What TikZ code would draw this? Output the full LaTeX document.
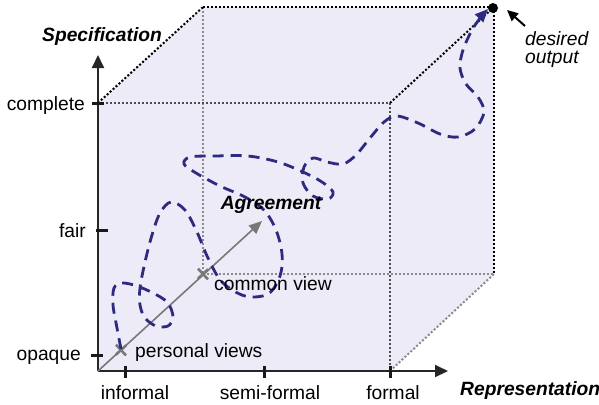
\documentclass[tikz,border=0pt]{standalone}
\usepackage{fontspec}
\setmainfont{Liberation Sans}
\usetikzlibrary{arrows.meta,calc}
\definecolor{cubefill}{HTML}{ECEBF7}
\definecolor{pathblue}{HTML}{2E2A80}
\definecolor{arrgray}{HTML}{787878}
\definecolor{hiddengray}{HTML}{8A8A8A}
\begin{document}
\begin{tikzpicture}[x=1bp,y=-1bp,
  font=\fontsize{19.3}{22}\selectfont,
  blackdot/.style={line width=2bp, dash pattern=on 2bp off 2bp, color=black},
  midot/.style={line width=2bp, dash pattern=on 2bp off 2bp, color=black!70},
  graydot/.style={line width=2bp, dash pattern=on 2bp off 2bp, color=hiddengray},
  axisline/.style={line width=2bp, color=black!85, -{Triangle[length=13bp,width=12bp]}},
  tickmark/.style={line width=3bp, color=black!90},
  xmark/.style={line width=2.6bp, color=arrgray},
  agrarrow/.style={line width=1.6bp, color=arrgray, -{Triangle[length=13bp,width=11bp]}},
  wander/.style={line width=2.8bp, color=pathblue, dash pattern=on 11bp off 7bp, -{Triangle[length=13bp,width=11bp]}},
  lbl/.style={inner sep=0pt},
  axtitle/.style={inner sep=0pt, font=\fontsize{19.3}{22}\selectfont\bfseries\itshape},
  note/.style={inner sep=0pt, font=\fontsize{19.3}{22}\selectfont\itshape}]
\useasboundingbox (0,0) rectangle (599,404);

% cube corners
\coordinate (O) at (98,371);
\coordinate (FTL) at (98,103);
\coordinate (FTR) at (390,103);
\coordinate (FBR) at (390,371);
\coordinate (BTL) at (203,7);
\coordinate (BTR) at (494,7);
\coordinate (BBR) at (494,274);
\coordinate (BBL) at (203,274);

% fill
\fill[cubefill] (O) -- (FTL) -- (BTL) -- (BTR) -- (BBR) -- (FBR) -- cycle;

% hidden edges
\draw[graydot] (BTL) -- (BBL);
\draw[graydot] (BBL) -- (BBR);
\draw[graydot] (FBR) -- (BBR);
% visible edges
\draw[midot] (FTL) -- (FTR);
\draw[midot] (FTR) -- (FBR);
\draw[blackdot] (FTL) -- (BTL);
\draw[blackdot] (BTL) -- (BTR);
\draw[blackdot] (BTR) -- (BBR);
\draw[blackdot] (FTR) -- (BTR);

% axes
\coordinate (ytip) at (98,55);
\coordinate (xtip) at (448,371);
\draw[axisline] (O) -- (ytip);
\draw[axisline] (O) -- (xtip);

% ticks
\draw[tickmark] (92,103) -- (104,103);
\draw[tickmark] (96,230) -- (108,230);
\draw[tickmark] (91,355) -- (103,355);
\draw[tickmark] (125,366) -- (125,378);
\draw[tickmark] (264,366) -- (264,378);
\draw[tickmark] (390,366) -- (390,378);

% agreement arrow with marks
\coordinate (pv) at (121,350);
\coordinate (cv) at (203,274);
\coordinate (agr) at (262,221);
\draw[agrarrow] (O) -- (agr);
\draw[xmark] ($(pv)+(-5,-5.4)$) -- ($(pv)+(5,5.4)$);
\draw[xmark] ($(pv)+(-5.2,4.8)$) -- ($(pv)+(5.2,-4.8)$);
\draw[xmark] ($(cv)+(-5,-5.4)$) -- ($(cv)+(5,5.4)$);
\draw[xmark] ($(cv)+(-5.2,4.8)$) -- ($(cv)+(5.2,-4.8)$);

% goal dot
\node[circle, fill=black, inner sep=0pt, minimum size=10bp] (goal) at (493,8) {};

% wandering path
\draw[wander] plot[smooth, tension=0.55] coordinates {
 (121,349) (117,328) (113,305) (114,288) (122,283) (137,286) (155,294)
 (168,303) (173,317) (168,326) (156,326) (145,318) (140,305) (140,288)
 (145,262) (152,235) (160,213) (171,202) (185,210) (197,232) (208,258)
 (222,282) (245,296) (268,294) (280,276) (282,254) (276,230) (264,210)
 (245,197) (220,186) (196,173) (184,164) (190,157) (215,156) (248,156)
 (278,162) (303,172) (322,182) (333,192) (328,199) (313,196) (303,183)
 (304,167) (313,158) (327,162) (343,164) (356,155) (370,138) (384,122)
 (397,116) (418,123) (440,134) (458,137) (475,129) (484,112) (478,97)
 (466,84) (460,68) (463,50) (472,30) (481,17) (488,9)};

% desired output pointer
\coordinate (dtail) at (525,26);
\coordinate (dhead) at (507,10);
\draw[line width=2bp, -{Triangle[length=11bp,width=10bp]}] (dtail) -- (dhead);

% labels
\node[lbl, anchor=base east] (lcomplete) at (85,110) {complete};
\node[lbl, anchor=base east] (lfair) at (86,237) {fair};
\node[lbl, anchor=base east] (lopaque) at (81,360) {opaque};
\node[lbl, anchor=base] (linformal) at (135,399) {informal};
\node[lbl, anchor=base] (lsemi) at (270,399) {semi-formal};
\node[lbl, anchor=base] (lformal) at (393,399) {formal};
\node[axtitle, anchor=base west] (lrep) at (460,395) {Representation};
\node[axtitle, anchor=base west] (lspec) at (42,41) {Specification};
\node[note, anchor=base west] (ldesired) at (525,45) {desired};
\node[note, anchor=base west] (loutput) at (525,63) {output};
\node[axtitle, anchor=base] (lagree) at (271,209) {Agreement};
\node[lbl, anchor=base west] (lcommon) at (214,290) {common view};
\node[lbl, anchor=base west] (lpersonal) at (135,357) {personal views};
\end{tikzpicture}
\end{document}
